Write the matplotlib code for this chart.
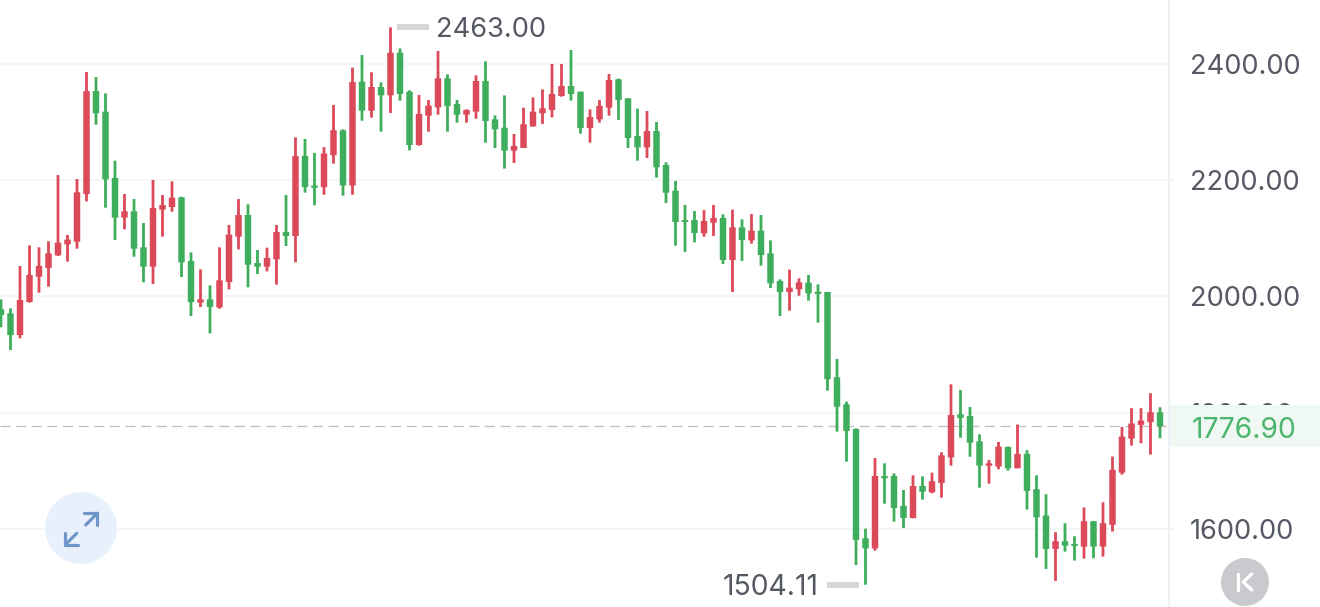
import numpy as np
import matplotlib
matplotlib.use("Agg")
import matplotlib.pyplot as plt
from matplotlib.patches import Circle, Rectangle

plt.rcParams['font.family'] = ['Inter', 'DejaVu Sans']

opens = [1977.9, 1971.0, 1933.7, 1990.5, 2034.0, 2049.0, 2070.8, 2089.7, 2094.3, 2176.3,
         2353.5, 2318.0, 2203.9, 2135.6, 2146.5, 2084.6, 2051.3, 2149.4, 2154.0, 2170.6,
         2061.1, 1989.4, 1995.1, 1981.3, 2024.9, 2102.9, 2140.2, 2057.6, 2051.3, 2063.9,
         2110.9, 2104.1, 2242.0, 2191.0, 2188.0, 2243.0, 2286.0, 2191.0, 2369.6, 2319.7,
         2360.4, 2346.1, 2419.5, 2352.4, 2260.6, 2311.1, 2325.4, 2375.3, 2331.2, 2312.8,
         2318.0, 2370.7, 2304.8, 2290.4, 2250.9, 2255.5, 2292.7, 2315.1, 2320.9, 2344.9,
         2362.1, 2352.4, 2289.9, 2304.8, 2324.9, 2373.6, 2340.9, 2276.1, 2256.6, 2284.7,
         2226.2, 2182.0, 2131.6, 2131.6, 2108.7, 2127.0, 2135.1, 2062.8, 2119.0, 2096.6,
         2113.3, 2074.3, 2026.7, 2007.7, 2012.3, 2023.8, 2008.3, 2007.8, 1860.9, 1814.5,
         1772.0, 1583.9, 1566.7, 1691.2, 1691.2, 1640.1, 1619.0, 1674.0, 1663.1, 1679.1,
         1723.3, 1797.3, 1794.4, 1750.8, 1708.9, 1707.4, 1741.2, 1704.5, 1729.2, 1668.4,
         1623.1, 1565.7, 1578.9, 1574.3, 1569.8, 1613.3, 1569.8, 1607.0, 1697.0, 1755.6,
         1779.1, 1783.7, 1800.9]
closes = [1968.2, 1933.7, 1993.9, 2037.0, 2052.5, 2074.2, 2092.6, 2097.8, 2179.2, 2353.5,
          2315.1, 2201.6, 2135.6, 2146.5, 2082.3, 2051.3, 2152.2, 2157.4, 2170.0, 2058.8,
          1990.5, 1995.1, 1981.9, 2027.8, 2106.4, 2140.2, 2054.7, 2051.3, 2066.2, 2110.9,
          2104.1, 2241.7, 2188.4, 2187.0, 2246.0, 2286.0, 2191.0, 2369.0, 2319.7, 2360.4,
          2346.1, 2419.5, 2348.4, 2260.6, 2314.0, 2328.3, 2375.3, 2327.7, 2312.8, 2320.9,
          2370.7, 2301.9, 2287.6, 2250.9, 2258.9, 2296.2, 2318.0, 2323.7, 2348.4, 2362.1,
          2348.4, 2289.9, 2308.8, 2327.8, 2372.5, 2338.1, 2272.7, 2256.6, 2284.7, 2222.2,
          2178.6, 2128.2, 2128.2, 2109.2, 2129.9, 2135.1, 2062.8, 2119.0, 2097.2, 2113.3,
          2071.4, 2022.7, 2007.7, 2015.2, 2024.4, 2005.4, 2004.3, 1857.5, 1810.5, 1768.6,
          1581.1, 1566.7, 1691.2, 1687.2, 1636.1, 1619.0, 1674.0, 1664.2, 1682.0, 1726.7,
          1796.1, 1791.0, 1748.5, 1708.9, 1713.0, 1741.8, 1704.5, 1729.2, 1665.5, 1620.2,
          1565.7, 1578.9, 1571.5, 1570.9, 1613.3, 1569.8, 1609.9, 1701.7, 1759.0, 1781.4,
          1786.5, 1800.9, 1776.9]
highs = [1995.1, 1979.6, 2052.5, 2088.0, 2084.6, 2094.9, 2209.0, 2105.8, 2202.1, 2386.2,
         2377.6, 2349.5, 2233.7, 2176.3, 2167.7, 2126.4, 2200.4, 2174.6, 2198.1, 2171.7,
         2075.9, 2046.7, 2019.2, 2084.6, 2123.0, 2167.7, 2158.6, 2080.0, 2084.0, 2123.0,
         2174.6, 2273.8, 2271.0, 2247.0, 2257.0, 2329.5, 2287.6, 2393.7, 2415.5, 2385.7,
         2368.4, 2463.0, 2426.9, 2354.7, 2346.7, 2338.0, 2422.4, 2382.2, 2338.0, 2322.0,
         2380.5, 2404.6, 2311.7, 2346.1, 2279.6, 2324.9, 2342.6, 2356.4, 2400.0, 2400.0,
         2424.0, 2352.4, 2322.0, 2338.1, 2382.8, 2374.8, 2340.9, 2323.2, 2319.1, 2300.2,
         2230.8, 2198.7, 2157.4, 2147.1, 2148.8, 2157.4, 2141.4, 2149.4, 2132.8, 2141.9,
         2140.2, 2096.6, 2029.5, 2046.2, 2031.3, 2037.0, 2020.9, 2007.8, 1892.5, 1819.1,
         1773.2, 1600.6, 1722.1, 1713.0, 1695.8, 1667.1, 1692.3, 1690.6, 1696.9, 1731.9,
         1848.9, 1839.1, 1809.9, 1762.9, 1718.7, 1749.8, 1741.8, 1779.7, 1735.5, 1692.5,
         1659.8, 1594.4, 1609.9, 1587.5, 1636.9, 1613.9, 1646.0, 1724.6, 1775.6, 1807.8,
         1807.8, 1833.6, 1809.5]
lows = [1946.9, 1907.9, 1928.0, 1989.4, 2006.6, 2016.9, 2069.7, 2059.9, 2082.3, 2163.7,
        2295.6, 2152.8, 2097.2, 2115.5, 2068.5, 2024.4, 2021.5, 2102.9, 2145.9, 2033.5,
        1966.4, 1981.9, 1936.6, 1979.0, 2012.3, 2081.1, 2015.8, 2038.7, 2043.3, 2020.4,
        2086.9, 2058.8, 2178.7, 2157.0, 2175.0, 2228.6, 2173.5, 2175.0, 2302.5, 2307.7,
        2283.6, 2315.7, 2336.9, 2251.5, 2259.5, 2283.6, 2312.8, 2283.6, 2299.0, 2299.0,
        2305.9, 2264.6, 2255.5, 2219.9, 2229.7, 2255.5, 2292.2, 2296.8, 2308.2, 2343.8,
        2336.9, 2280.2, 2264.7, 2299.1, 2311.1, 2303.7, 2255.5, 2233.7, 2238.3, 2204.4,
        2160.9, 2087.5, 2076.6, 2093.2, 2102.9, 2104.1, 2055.9, 2007.7, 2061.1, 2090.9,
        2053.0, 2014.6, 1966.4, 1975.6, 2001.4, 1992.8, 1955.0, 1838.0, 1767.5, 1715.8,
        1538.0, 1504.11, 1562.7, 1643.6, 1612.6, 1601.7, 1618.3, 1650.5, 1661.4, 1653.9,
        1709.0, 1757.1, 1724.4, 1671.1, 1678.0, 1702.8, 1700.5, 1704.5, 1633.4, 1550.8,
        1531.3, 1510.7, 1561.1, 1545.7, 1549.1, 1549.7, 1552.5, 1595.6, 1693.6, 1743.5,
        1747.5, 1728.0, 1756.1]

y_ticks = [2400, 2200, 2000, 1800, 1600]
last_price = 1776.90

RED = '#DC4A5A'
GREEN = '#3FAE5C'
GREY_TEXT = '#555963'
FS = 19.6
FS_ONES = 20.4  # labels with narrow 1s run wider in the reference

fig = plt.figure(figsize=(13.2, 6.07), dpi=100)
ax = fig.add_axes([0, 0, 1, 1])
ax.axis('off')

# 1 candle = 9.5 px, first one sits at px 1
ax.set_xlim(-1 / 9.5, 1319 / 9.5)
ax.set_ylim(1465.8, 2510.1)


def px(x):
    return (x - 1) / 9.5


x = np.arange(len(opens))
o = np.array(opens)
c = np.array(closes)
colors = [RED if b > a else GREEN for a, b in zip(opens, closes)]

# Grid and last price line
ax.hlines(y_ticks, px(0), px(1174), color='#F2F3F6', lw=1.2, zorder=1)
ax.hlines(last_price, px(0), px(1169), color='#BEBEC2', lw=0.9, linestyles=(0, (8, 4.5)), zorder=1)

# Candles
ax.vlines(x, lows, highs, color=colors, lw=2.0, zorder=3, snap=False)
ax.bar(x, np.abs(c - o), bottom=np.minimum(o, c), width=0.68, color=colors, zorder=3, snap=False)

# Axis labels
for t in y_ticks:
    ax.text(px(1190), t, f"{t:.2f}", fontsize=FS, color=GREY_TEXT, va='center_baseline', ha='left', zorder=2)

# High and low markers
ax.hlines(max(highs), px(397), px(429), color='#D6D6D6', lw=4.2, zorder=2)
ax.text(px(436), max(highs), f"{max(highs):.2f}", fontsize=FS, color=GREY_TEXT, va='center_baseline', ha='left')
ax.hlines(min(lows), px(827), px(859), color='#D6D6D6', lw=4.2, zorder=2)
ax.text(px(819), min(lows), f"{min(lows):.2f}", fontsize=FS_ONES, color=GREY_TEXT, va='center_baseline', ha='right')

# Buttons and price tag in pixel coordinates
ui = fig.add_axes([0, 0, 1, 1], zorder=5)
ui.set_xlim(0, 1320)
ui.set_ylim(607, 0)
ui.axis('off')
ui.patch.set_alpha(0)

ui.plot([1168.5, 1168.5], [0, 607], color='#EEF1F8', lw=1.5)
ui.add_patch(Rectangle((1169.5, 405), 151, 42, color='#EFF8F2', lw=0))
ui.text(1244.5, 427, f"{last_price:.2f}", fontsize=FS_ONES, color='#4CB56E', va='center_baseline', ha='center')

ui.add_patch(Circle((81, 528), 36, color='#E6EFFB', alpha=0.9, lw=0))
icon = dict(color='#6F95C9', lw=2.3, solid_capstyle='round', solid_joinstyle='round')
ui.plot([85.7, 97.3], [525, 513.3], **icon)
ui.plot([84, 97.3, 97.3], [512.7, 512.7, 525], **icon)
ui.plot([76.7, 65.7], [533.3, 544.3], **icon)
ui.plot([65, 65, 78.3], [533.3, 545, 545], **icon)

ui.add_patch(Circle((1245, 582), 24, color='#C9CACE', lw=0))
ui.plot([1238, 1238], [574, 590], color='white', lw=2.4, solid_capstyle='round')
ui.plot([1251.7, 1243.3, 1251.7], [574, 582, 590], color='white', lw=2.4, solid_capstyle='round')

fig.savefig("out.png", dpi=100)
